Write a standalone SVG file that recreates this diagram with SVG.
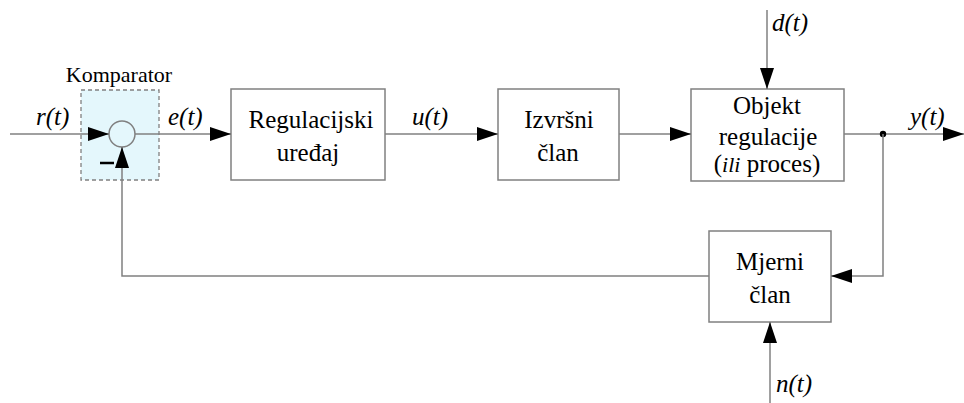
<svg xmlns="http://www.w3.org/2000/svg" width="964" height="403" viewBox="0 0 964 403" font-family="Liberation Serif, serif">
<defs>
<marker id="arr" markerUnits="userSpaceOnUse" markerWidth="22" markerHeight="14" refX="21" refY="7" orient="auto">
<path d="M0,0 L21,7 L0,14 Z" fill="#000"/>
</marker>
</defs>
<style>
.box{fill:#fff;stroke:#808080;stroke-width:1.5}
.ln{fill:none;stroke:#808080;stroke-width:1.5}
text{font-family:"Liberation Serif","Times New Roman",serif}
.t{font-size:25px;fill:#000;text-anchor:middle}
.s{font-size:25px;font-style:italic;fill:#000}
</style>
<rect width="964" height="403" fill="#fff"/>
<g id="komparator">
<rect x="81" y="90" width="78" height="90" fill="#e4f7fc" stroke="#808080" stroke-width="1.3" stroke-dasharray="4,3"/>
<text x="119" y="82" font-size="22" text-anchor="middle">Komparator</text>
<circle cx="122" cy="134" r="13" fill="#e4f7fc" stroke="#808080" stroke-width="1.5"/>
<line x1="100" y1="163" x2="114" y2="163" stroke="#000" stroke-width="2.5"/>
</g>
<g id="regulacijski">
<rect class="box" x="231" y="89" width="154" height="91"/>
<text class="t" x="311" y="128">Regulacijski</text>
<text class="t" x="308" y="161">uređaj</text>
</g>
<g id="izvrsni">
<rect class="box" x="498" y="89" width="121" height="91"/>
<text class="t" x="559" y="128">Izvršni</text>
<text class="t" x="558" y="161">član</text>
</g>
<g id="objekt">
<rect class="box" x="691" y="89" width="153" height="92"/>
<text class="t" x="767" y="114">Objekt</text>
<text class="t" x="768" y="145">regulacije</text>
<text class="t" x="767" y="172">(<tspan font-style="italic" font-size="22">ili</tspan> proces)</text>
</g>
<g id="mjerni">
<rect class="box" x="709" y="231" width="122" height="91"/>
<text class="t" x="770" y="270">Mjerni</text>
<text class="t" x="770" y="303">član</text>
</g>
<g id="connectors">
<line class="ln" x1="10" y1="134" x2="109" y2="134" marker-end="url(#arr)"/>
<line class="ln" x1="135" y1="134" x2="231" y2="134" marker-end="url(#arr)"/>
<line class="ln" x1="385" y1="134" x2="498" y2="134" marker-end="url(#arr)"/>
<line class="ln" x1="619" y1="134" x2="691" y2="134" marker-end="url(#arr)"/>
<line class="ln" x1="844" y1="134" x2="964" y2="134" marker-end="url(#arr)"/>
<line class="ln" x1="767" y1="10" x2="767" y2="89" marker-end="url(#arr)"/>
<circle cx="883" cy="134" r="3.2" fill="#000"/>
<polyline class="ln" points="883,134 883,276 831,276" marker-end="url(#arr)"/>
<polyline class="ln" points="709,276 122,276 122,147" marker-end="url(#arr)"/>
<line class="ln" x1="770" y1="403" x2="770" y2="322" marker-end="url(#arr)"/>
</g>
<g id="labels">
<text class="s" x="36" y="125">r(t)</text>
<text class="s" x="168" y="125">e(t)</text>
<text class="s" x="412" y="125">u(t)</text>
<text class="s" x="910" y="125">y(t)</text>
<text class="s" x="772" y="31">d(t)</text>
<text class="s" x="776" y="392">n(t)</text>
</g>
</svg>
